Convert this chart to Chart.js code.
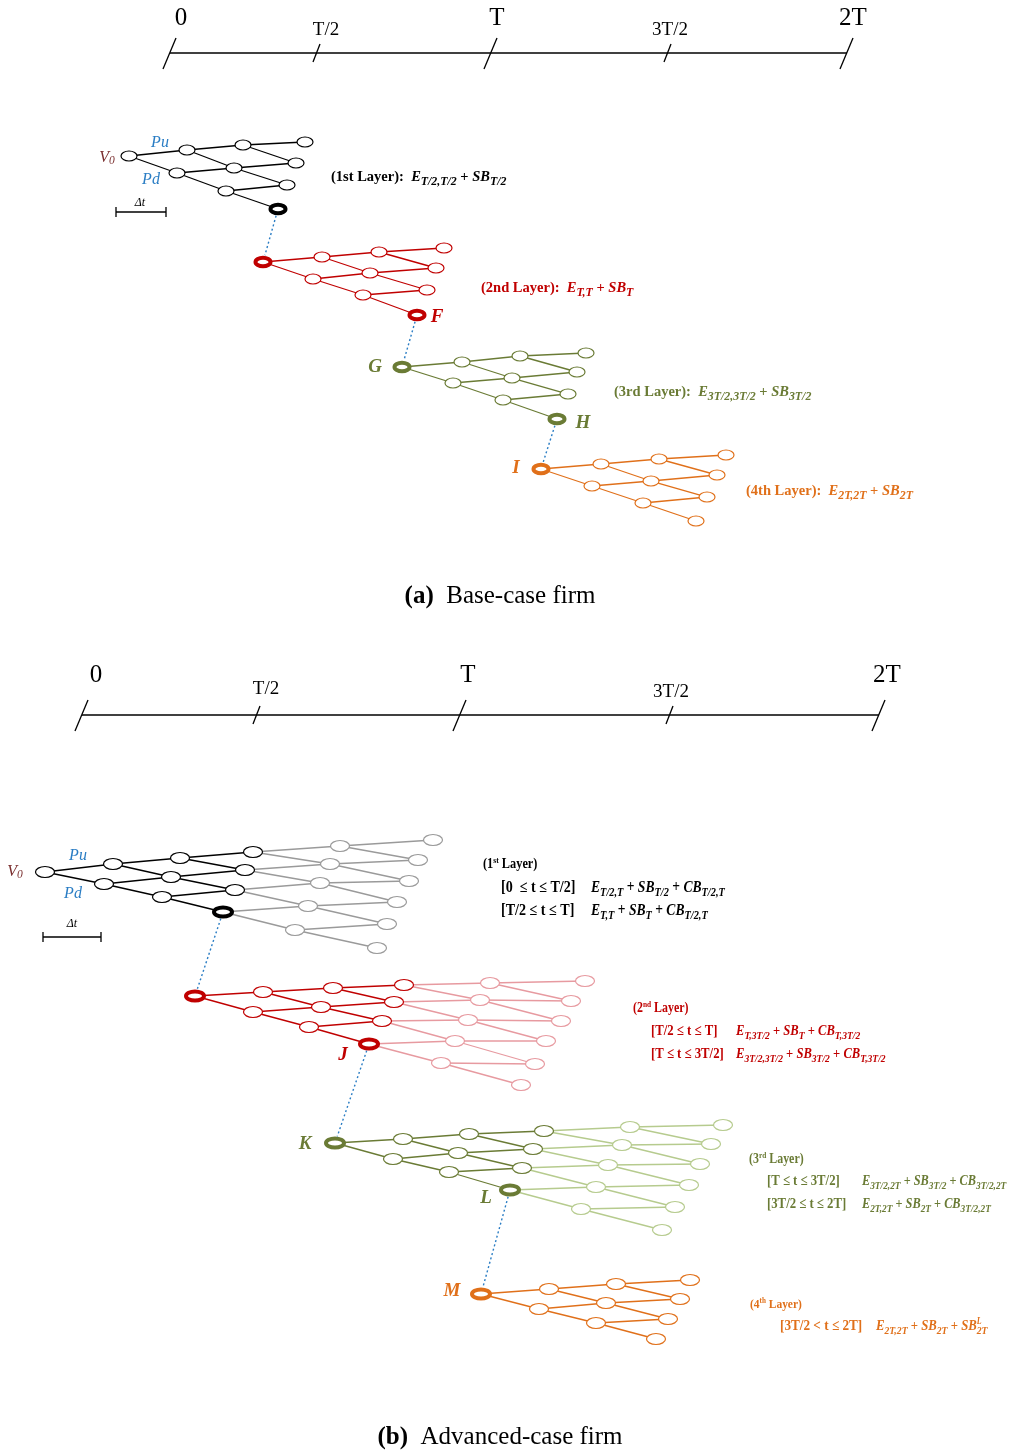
<!DOCTYPE html>
<html><head><meta charset="utf-8">
<script src="https://cdn.jsdelivr.net/npm/chart.js@4.4.0/dist/chart.umd.min.js"></script>
<style>html,body{margin:0;padding:0;background:#fff}canvas{display:block}</style>
</head><body>
<canvas id="c" width="1011" height="1455"></canvas>
<script>
// time axes
const tickLabels = ['0', 'T/2', 'T', '3T/2', '2T'];
const tickMajor = [true, false, true, false, true];
const tickXa = [170, 316, 491, 667, 847];
const labelXa = [181, 326, 497, 670, 853];
const tickXb = [82, 256, 460, 669, 879];
const labelXb = [96, 266, 468, 671, 887];
const axisYa = 53, axisYb = 715;

// lattice nodes, column by column (top node first)
const a1X = [[129], [187, 177], [243, 234, 226], [305, 296, 287, 278]];
const a1Y = [[156], [150, 173], [145, 168, 191], [142, 163, 185, 209]];
const a2X = [[263], [322, 313], [379, 370, 363], [444, 436, 427, 417]];
const a2Y = [[262], [257, 279], [252, 273, 295], [248, 268, 290, 315]];
const a3X = [[402], [462, 453], [520, 512, 503], [586, 577, 568, 557]];
const a3Y = [[367], [362, 383], [356, 378, 400], [353, 372, 394, 419]];
const a4X = [[541], [601, 592], [659, 651, 643], [726, 717, 707, 696]];
const a4Y = [[469], [464, 486], [459, 481, 503], [455, 475, 497, 521]];

const b1X = [[45], [113, 104], [180, 171, 162], [253, 245, 235, 223], [340, 330, 320, 308, 295], [433, 418, 409, 397, 387, 377]];
const b1Y = [[872], [864, 884], [858, 877, 897], [852, 870, 890, 912], [846, 864, 883, 906, 930], [840, 860, 881, 902, 924, 948]];
const b2X = [[195], [263, 253], [333, 321, 309], [404, 394, 382, 369], [490, 480, 468, 455, 441], [585, 571, 561, 546, 535, 521]];
const b2Y = [[996], [992, 1012], [988, 1007, 1027], [985, 1002, 1021, 1044], [983, 1000, 1020, 1041, 1063], [981, 1001, 1021, 1041, 1064, 1085]];
const b3X = [[335], [403, 393], [469, 458, 449], [544, 533, 522, 510], [630, 622, 608, 596, 581], [723, 711, 700, 689, 675, 662]];
const b3Y = [[1143], [1139, 1159], [1134, 1153, 1172], [1131, 1149, 1168, 1190], [1127, 1145, 1165, 1187, 1209], [1125, 1144, 1164, 1185, 1207, 1230]];
const b4X = [[481], [549, 539], [616, 606, 596], [690, 680, 668, 656]];
const b4Y = [[1294], [1289, 1309], [1284, 1303, 1323], [1280, 1299, 1319, 1339]];

const BLACK = '#000000', GREY = '#9a9a9a', RED = '#c00000', PINK = '#e79aa0',
      GREEN = '#6a7b35', LGREEN = '#b6cb8e', ORANGE = '#e0701a', BLUE = '#2a7dc4', BROWN = '#7a2e2e';

const layers = [
  {X: a1X, Y: a1Y, color: BLACK, light: BLACK, dark: 4, bold: ['3,3'], rx: 8, ry: 5, brx: 7.5, bry: 4.3},
  {X: a2X, Y: a2Y, color: RED, light: RED, dark: 4, bold: ['0,0', '3,3'], rx: 8, ry: 5, brx: 7.5, bry: 4.3},
  {X: a3X, Y: a3Y, color: GREEN, light: GREEN, dark: 4, bold: ['0,0', '3,3'], rx: 8, ry: 5, brx: 7.5, bry: 4.3},
  {X: a4X, Y: a4Y, color: ORANGE, light: ORANGE, dark: 4, bold: ['0,0'], rx: 8, ry: 5, brx: 7.5, bry: 4.3},
  {X: b1X, Y: b1Y, color: BLACK, light: GREY, dark: 4, bold: ['3,3'], rx: 9.5, ry: 5.5, brx: 9, bry: 4.5},
  {X: b2X, Y: b2Y, color: RED, light: PINK, dark: 4, bold: ['0,0', '3,3'], rx: 9.5, ry: 5.5, brx: 9, bry: 4.5},
  {X: b3X, Y: b3Y, color: GREEN, light: LGREEN, dark: 4, bold: ['0,0', '3,3'], rx: 9.5, ry: 5.5, brx: 9, bry: 4.5},
  {X: b4X, Y: b4Y, color: ORANGE, light: ORANGE, dark: 4, bold: ['0,0'], rx: 9.5, ry: 5.5, brx: 9, bry: 4.5}
];
// dotted links: [from layer, to layer]
const links = [[0, 1], [1, 2], [2, 3], [4, 5], [5, 6], [6, 7]];

const ds = [];
function seg(x1, y1, x2, y2, color, width, dash) {
  ds.push({data: [{x: x1, y: y1}, {x: x2, y: y2}], showLine: true, borderColor: color,
    borderWidth: width, borderDash: dash || [], pointRadius: 0, fill: false});
}

// axes
[[tickXa, axisYa], [tickXb, axisYb]].forEach(([tx, ay]) => {
  seg(tx[0], ay, tx[tx.length - 1], ay, BLACK, 1.3);
  tx.forEach((x, i) => {
    if (tickMajor[i]) seg(x - 7, ay + 16, x + 6, ay - 15, BLACK, 1.3);
    else seg(x - 3, ay + 9, x + 4, ay - 9, BLACK, 1.3);
  });
});

// Δt bars
[[116, 166, 212], [43, 101, 937]].forEach(([x1, x2, y]) => {
  seg(x1, y, x2, y, BLACK, 1.3);
  seg(x1, y - 5, x1, y + 5, BLACK, 1.3);
  seg(x2, y - 5, x2, y + 5, BLACK, 1.3);
});

// dotted links between layers
links.forEach(([f, t]) => {
  const A = layers[f], B = layers[t];
  const n = A.X.length > 4 ? 3 : A.X.length - 1;
  const x1 = A.X[n][n], y1 = A.Y[n][n], x2 = B.X[0][0], y2 = B.Y[0][0];
  const dx = x2 - x1, dy = y2 - y1, L = Math.hypot(dx, dy);
  seg(x1 + dx / L * 7, y1 + dy / L * 7, x2 - dx / L * 7, y2 - dy / L * 7, BLUE, 1.4, [2, 2.5]);
});

// lattices
layers.forEach(L => {
  const n = L.X.length;
  for (let c = 0; c < n - 1; c++) {
    const col = c + 1 < L.dark ? L.color : L.light;
    for (let k = 0; k <= c; k++) {
      seg(L.X[c][k], L.Y[c][k], L.X[c + 1][k], L.Y[c + 1][k], col, 1.3);
      seg(L.X[c][k], L.Y[c][k], L.X[c + 1][k + 1], L.Y[c + 1][k + 1], col, 1.3);
    }
  }
  const pts = [], cols = [], bold = [];
  for (let c = 0; c < n; c++) for (let k = 0; k <= c; k++) {
    pts.push({x: L.X[c][k], y: L.Y[c][k]});
    cols.push(c < L.dark ? L.color : L.light);
    bold.push(L.bold.includes(c + ',' + k));
  }
  ds.push({data: pts, showLine: false, pointRadius: 0, nodeColors: cols, nodeBold: bold,
    rx: L.rx, ry: L.ry, brx: L.brx, bry: L.bry});
});

// text annotations
const notes = [
  {x: 331, y: 181, c: BLACK, s: 14.5, sb: 0.82, t: [['(1st Layer):  ', 'b'], ['E', 'bi'], ['T/2,T/2', 'sub'], [' + ', 'b'], ['SB', 'bi'], ['T/2', 'sub']]},
  {x: 481, y: 292, c: RED, s: 14.5, sb: 0.82, t: [['(2nd Layer):  ', 'b'], ['E', 'bi'], ['T,T', 'sub'], [' + ', 'b'], ['SB', 'bi'], ['T', 'sub']]},
  {x: 614, y: 396, c: GREEN, s: 14.5, sb: 0.82, t: [['(3rd Layer):  ', 'b'], ['E', 'bi'], ['3T/2,3T/2', 'sub'], [' + ', 'b'], ['SB', 'bi'], ['3T/2', 'sub']]},
  {x: 746, y: 495, c: ORANGE, s: 14.5, sb: 0.82, t: [['(4th Layer):  ', 'b'], ['E', 'bi'], ['2T,2T', 'sub'], [' + ', 'b'], ['SB', 'bi'], ['2T', 'sub']]},

  {x: 483, y: 868, c: BLACK, s: 14, sx: 0.88, t: [['(1', 'b'], ['st', 'sup'], [' Layer)', 'b']]},
  {x: 501, y: 892, c: BLACK, s: 16, sx: 0.88, t: [['[0  \u2264 t \u2264 T/2]', 'b']]},
  {x: 591, y: 892, c: BLACK, s: 16, sx: 0.85, t: [['E', 'bi'], ['T/2,T', 'sub'], [' + ', 'b'], ['SB', 'bi'], ['T/2', 'sub'], [' + ', 'b'], ['CB', 'bi'], ['T/2,T', 'sub']]},
  {x: 501, y: 915, c: BLACK, s: 16, sx: 0.88, t: [['[T/2 \u2264 t \u2264 T]', 'b']]},
  {x: 591, y: 915, c: BLACK, s: 16, sx: 0.85, t: [['E', 'bi'], ['T,T', 'sub'], [' + ', 'b'], ['SB', 'bi'], ['T', 'sub'], [' + ', 'b'], ['CB', 'bi'], ['T/2,T', 'sub']]},

  {x: 633, y: 1012, c: RED, s: 14, sx: 0.85, t: [['(2', 'b'], ['nd', 'sup'], [' Layer)', 'b']]},
  {x: 651, y: 1035, c: RED, s: 15, sx: 0.85, t: [['[T/2 \u2264 t \u2264 T]', 'b']]},
  {x: 736, y: 1035, c: RED, s: 15, sx: 0.84, t: [['E', 'bi'], ['T,3T/2', 'sub'], [' + ', 'b'], ['SB', 'bi'], ['T', 'sub'], [' + ', 'b'], ['CB', 'bi'], ['T,3T/2', 'sub']]},
  {x: 651, y: 1058, c: RED, s: 15, sx: 0.85, t: [['[T \u2264 t \u2264 3T/2]', 'b']]},
  {x: 736, y: 1058, c: RED, s: 15, sx: 0.84, t: [['E', 'bi'], ['3T/2,3T/2', 'sub'], [' + ', 'b'], ['SB', 'bi'], ['3T/2', 'sub'], [' + ', 'b'], ['CB', 'bi'], ['T,3T/2', 'sub']]},

  {x: 749, y: 1163, c: GREEN, s: 14, sx: 0.85, t: [['(3', 'b'], ['rd', 'sup'], [' Layer)', 'b']]},
  {x: 767, y: 1185, c: GREEN, s: 15, sx: 0.85, t: [['[T \u2264 t \u2264 3T/2]', 'b']]},
  {x: 862, y: 1185, c: GREEN, s: 15, sx: 0.82, t: [['E', 'bi'], ['3T/2,2T', 'sub'], [' + ', 'b'], ['SB', 'bi'], ['3T/2', 'sub'], [' + ', 'b'], ['CB', 'bi'], ['3T/2,2T', 'sub']]},
  {x: 767, y: 1208, c: GREEN, s: 15, sx: 0.85, t: [['[3T/2 \u2264 t \u2264 2T]', 'b']]},
  {x: 862, y: 1208, c: GREEN, s: 15, sx: 0.82, t: [['E', 'bi'], ['2T,2T', 'sub'], [' + ', 'b'], ['SB', 'bi'], ['2T', 'sub'], [' + ', 'b'], ['CB', 'bi'], ['3T/2,2T', 'sub']]},

  {x: 750, y: 1308, c: ORANGE, s: 13.5, sx: 0.85, t: [['(4', 'b'], ['th', 'sup'], [' Layer)', 'b']]},
  {x: 780, y: 1330, c: ORANGE, s: 15, sx: 0.88, t: [['[3T/2 < t \u2264 2T]', 'b']]},
  {x: 876, y: 1330, c: ORANGE, s: 15, sx: 0.85, t: [['E', 'bi'], ['2T,2T', 'sub'], [' + ', 'b'], ['SB', 'bi'], ['2T', 'sub'], [' + ', 'b'], ['SB', 'bi'], ['L|2T', 'ss']]},

  // node letters
  {x: 437, y: 322, c: RED, s: 19, al: 'center', t: [['F', 'bi']]},
  {x: 375, y: 372, c: GREEN, s: 19, al: 'center', t: [['G', 'bi']]},
  {x: 583, y: 428, c: GREEN, s: 19, al: 'center', t: [['H', 'bi']]},
  {x: 516, y: 473, c: ORANGE, s: 19, al: 'center', t: [['I', 'bi']]},
  {x: 343, y: 1060, c: RED, s: 19, al: 'center', t: [['J', 'bi']]},
  {x: 305, y: 1149, c: GREEN, s: 19, al: 'center', t: [['K', 'bi']]},
  {x: 486, y: 1203, c: GREEN, s: 19, al: 'center', t: [['L', 'bi']]},
  {x: 452, y: 1296, c: ORANGE, s: 19, al: 'center', t: [['M', 'bi']]},

  // V0, Pu, Pd, Δt
  {x: 107, y: 162, c: BROWN, s: 16, al: 'center', t: [['V', 'i'], ['0', 'isub']]},
  {x: 160, y: 147, c: BLUE, s: 16, al: 'center', t: [['Pu', 'i']]},
  {x: 151, y: 184, c: BLUE, s: 16, al: 'center', t: [['Pd', 'i']]},
  {x: 140, y: 206, c: BLACK, s: 12, al: 'center', t: [['\u0394t', 'i']]},
  {x: 15, y: 876, c: BROWN, s: 16, al: 'center', t: [['V', 'i'], ['0', 'isub']]},
  {x: 78, y: 860, c: BLUE, s: 16, al: 'center', t: [['Pu', 'i']]},
  {x: 73, y: 898, c: BLUE, s: 16, al: 'center', t: [['Pd', 'i']]},
  {x: 72, y: 927, c: BLACK, s: 12, al: 'center', t: [['\u0394t', 'i']]},

  // captions
  {x: 500, y: 603, c: BLACK, s: 25, al: 'center', t: [['(a)', 'b'], ['  Base-case firm', 'r']]},
  {x: 500, y: 1444, c: BLACK, s: 25, al: 'center', t: [['(b)', 'b'], ['  Advanced-case firm', 'r']]}
];
tickLabels.forEach((t, i) => {
  const s = tickMajor[i] ? 25 : 19;
  notes.push({x: labelXa[i], y: tickMajor[i] ? 25 : 35, c: BLACK, s: s, al: 'center', t: [[t, 'r']]});
  notes.push({x: labelXb[i], y: tickMajor[i] ? 682 : (i === 1 ? 694 : 697), c: BLACK, s: s, al: 'center', t: [[t, 'r']]});
});

const FAM = ' "Liberation Serif", "Times New Roman", serif';
function fontFor(st, s, sb) {
  if (st === 'b') return ['bold ' + s + 'px', 0];
  if (st === 'bi') return ['italic bold ' + s + 'px', 0];
  if (st === 'sub') return ['italic bold ' + (s * (sb || 0.76)) + 'px', s * 0.25];
  if (st === 'sup') return ['bold ' + (s * 0.62) + 'px', -s * 0.38];
  if (st === 'i') return ['italic ' + s + 'px', 0];
  if (st === 'isub') return ['italic ' + (s * 0.72) + 'px', s * 0.15];
  return [s + 'px', 0];
}
function rich(ctx, n, draw) {
  let cx = 0;
  n.t.forEach(([txt, st]) => {
    if (st === 'ss') {
      const [up, dn] = txt.split('|');
      const [f1, d1] = fontFor('sup', n.s), [f2, d2] = fontFor('sub', n.s, n.sb);
      ctx.font = 'italic ' + f1 + FAM;
      const w1 = ctx.measureText(up).width;
      if (draw) ctx.fillText(up, cx, d1);
      ctx.font = f2 + FAM;
      const w2 = ctx.measureText(dn).width;
      if (draw) ctx.fillText(dn, cx, d2);
      cx += Math.max(w1, w2);
      return;
    }
    const [f, dy] = fontFor(st, n.s, n.sb);
    ctx.font = f + FAM;
    if (draw) ctx.fillText(txt, cx, dy);
    cx += ctx.measureText(txt).width;
  });
  return cx;
}

const drawPlugin = {
  id: 'drawNodes',
  afterDatasetsDraw(chart) {
    const ctx = chart.ctx, xs = chart.scales.x, ys = chart.scales.y;
    chart.data.datasets.forEach((d, i) => {
      if (!d.nodeColors) return;
      chart.getDatasetMeta(i).data.forEach((p, j) => {
        const b = d.nodeBold[j];
        ctx.beginPath();
        ctx.ellipse(p.x, p.y, b ? d.brx : d.rx, b ? d.bry : d.ry, 0, 0, Math.PI * 2);
        ctx.fillStyle = '#fff';
        ctx.fill();
        ctx.lineWidth = b ? 4 : 1.2;
        ctx.strokeStyle = d.nodeColors[j];
        ctx.stroke();
      });
    });
    notes.forEach(n => {
      ctx.save();
      ctx.textBaseline = 'alphabetic';
      ctx.textAlign = 'left';
      ctx.fillStyle = n.c;
      const sx = n.sx || 1;
      const w = rich(ctx, n, false) * sx;
      let x = xs.getPixelForValue(n.x);
      if (n.al === 'center') x -= w / 2;
      ctx.translate(x, ys.getPixelForValue(n.y));
      ctx.scale(sx, 1);
      rich(ctx, n, true);
      ctx.restore();
    });
  }
};

new Chart(document.getElementById('c'), {
  type: 'scatter',
  data: {datasets: ds},
  options: {
    responsive: false,
    animation: false,
    events: [],
    layout: {padding: 0},
    plugins: {legend: {display: false}, tooltip: {enabled: false}},
    scales: {
      x: {type: 'linear', min: 0, max: 1011, display: false},
      y: {type: 'linear', min: 0, max: 1455, reverse: true, display: false}
    }
  },
  plugins: [drawPlugin]
});
</script>
</body></html>
